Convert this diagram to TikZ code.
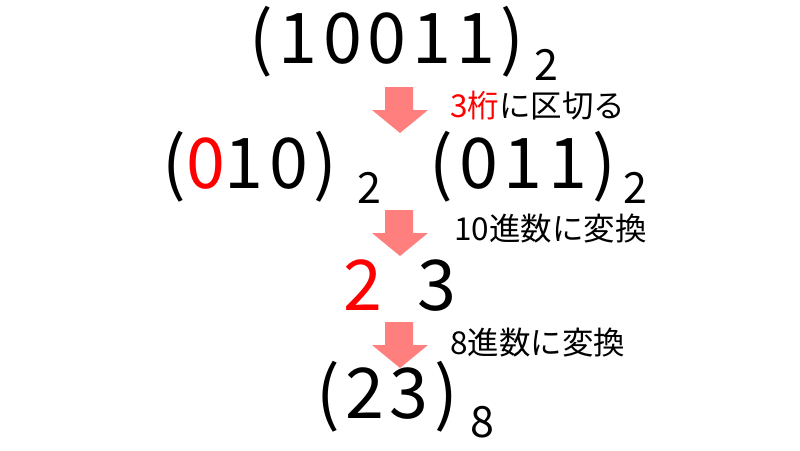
\documentclass[tikz,border=0pt]{standalone}
\usepackage{fontspec}
\setmainfont{Noto Sans CJK JP}
\newfontfamily\numfont[LetterSpace=8]{Noto Sans CJK JP}
\definecolor{arrowpink}{HTML}{FF7F7F}
\tikzset{
  bignum/.style={inner sep=0, anchor=base, font=\numfont\fontsize{70}{72}\selectfont},
  subnum/.style={inner sep=0, anchor=base, font=\fontsize{43}{45}\selectfont},
  note/.style={inner sep=0, anchor=base west, font=\fontsize{31.5}{33}\selectfont},
}
\begin{document}
\begin{tikzpicture}[x=1pt, y=-1pt]
\useasboundingbox (0,0) rectangle (800,450);
% binary number
\node[bignum] (bin) at (387,63) {(10011)};
\node[subnum] (binbase) at (546,80) {2};

% split into groups of 3
\node[note] (split) at (450,117) {{\color{red}3桁}に区切る};
\node[bignum] (left) at (250,188) {({\color{red}0}10)};
\node[subnum] (leftbase) at (369,203) {2};
\node[bignum] (right) at (523,188) {(011)};
\node[subnum] (rightbase) at (635,203) {2};

% decimal digits
\node[note] (todec) at (454,240) {10進数に変換};
\node[bignum, red] (two) at (363,310) {2};
\node[bignum] (three) at (437,310) {3};

% octal number
\node[note] (tooct) at (450,354) {8進数に変換};
\node[bignum] (oct) at (387,418) {(23)};
\node[subnum] (octbase) at (482,437) {8};

\foreach \y in {87,210,322}
{
    \fill[arrowpink](385,\y)--(413,\y)--(413,\y+23)--(428,\y+23)--(400,\y+46)--(372,\y+23)--(385,\y+23)--cycle;
}
\end{tikzpicture}
\end{document}
